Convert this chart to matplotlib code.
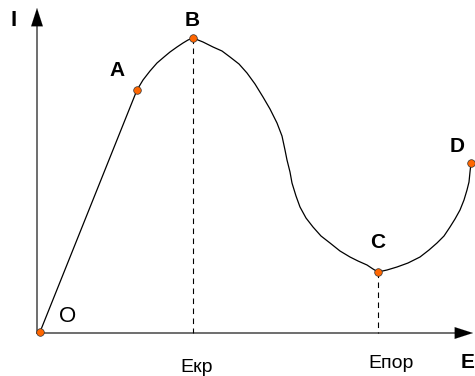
import matplotlib
matplotlib.use('Agg')
import matplotlib.pyplot as plt

plt.rcParams['font.family'] = ['Liberation Sans', 'DejaVu Sans']

# Характерные точки кривой I(E)
point_names = ['O', 'A', 'B', 'C', 'D']
point_E = [0, 97, 153, 338, 431]
point_I = [0, 242, 294, 60, 169]

# Кривая
curve_E = [0, 97, 103, 110, 117, 124, 130, 137, 143, 148, 153,
           163, 173, 182, 190, 199, 207, 215, 223, 230, 237, 242, 245,
           247, 250, 252, 256, 260, 266, 273, 281, 290, 300, 310, 318,
           327, 333, 338,
           347, 357, 368, 380, 389, 397, 404, 410, 415, 420, 424, 427,
           429, 430, 431]
curve_I = [0, 242, 252, 261, 269, 275, 280, 285, 289, 292, 294,
           290, 285, 281, 275, 268, 259, 248, 235, 223, 209, 196, 182,
           172, 160, 149, 136, 125, 114, 105, 96, 89, 81, 75, 71,
           67, 63, 60,
           62, 65, 69, 75, 82, 89, 96, 105, 113, 122, 132, 142,
           150, 160, 169]

# Подписи на оси E
tick_E = [157, 351]
tick_labels = ['Екр', 'Епор']

fig = plt.figure(figsize=(4.75, 3.76), dpi=100)
ax = fig.add_axes([0, 0, 1, 1])
ax.set_xlim(-40, 435)
ax.set_ylim(-44, 332)
ax.axis('off')

# Оси со стрелками
head = '-|>,head_length=1.3,head_width=0.42'
ax.plot([-3, 420], [-1, -1], color='#555555', lw=1.2, zorder=1)
ax.plot([-3, -3], [-1, 310], color='#555555', lw=1.2, zorder=1)
ax.annotate('', xy=(433, -1), xytext=(416, -1),
            arrowprops=dict(arrowstyle=head, color='black', lw=0.1,
                            shrinkA=0, shrinkB=0))
ax.annotate('', xy=(-3, 324), xytext=(-3, 307),
            arrowprops=dict(arrowstyle=head, color='black', lw=0.1,
                            shrinkA=0, shrinkB=0))

# Пунктирные линии к оси
for e, i in zip(point_E[2:4], point_I[2:4]):
    ax.plot([e, e], [i, -1], color='black', lw=0.8, ls=(0, (5, 4)), zorder=1)

ax.plot(curve_E, curve_I, color='black', lw=0.9, zorder=2)
ax.scatter(point_E, point_I, s=30, color='#ff6600', edgecolor='#333333',
           linewidths=0.5, zorder=3)

# Подписи точек
label_pos = {'A': (77, 261), 'B': (152, 311), 'C': (338, 89), 'D': (417, 185)}
for name, (x, y) in label_pos.items():
    ax.text(x, y, name, fontsize=15, fontweight='bold', ha='center', va='center')
ax.text(28, 16, 'O', fontsize=16, ha='center', va='center')
ax.text(-26, 312, 'I', fontsize=16, fontweight='bold', ha='center', va='center')
ax.text(428, -31, 'E', fontsize=15, fontweight='bold', ha='center', va='center')

for e, lab, y in zip(tick_E, tick_labels, [-35, -31]):
    ax.text(e, y, lab, fontsize=14, ha='center', va='center')

fig.savefig('out.png', dpi=100)
